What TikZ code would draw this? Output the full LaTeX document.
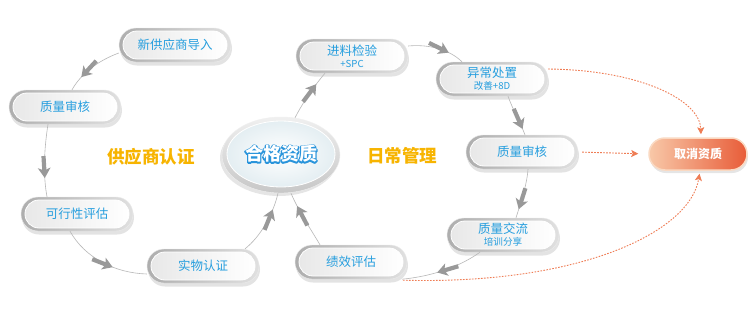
\documentclass[tikz,border=0pt]{standalone}
\usepackage{fontspec}
\setmainfont{Noto Sans CJK SC}
\usetikzlibrary{shapes.misc,shapes.geometric,shadows,decorations.markings,arrows.meta}
\definecolor{txtblue}{RGB}{38,158,222}
\definecolor{gold}{RGB}{247,180,0}
\definecolor{dorange}{RGB}{239,125,85}
\definecolor{qxleft}{RGB}{248,200,168}
\definecolor{qxright}{RGB}{232,92,56}
\definecolor{hzrim}{RGB}{228,238,242}
\newcommand\glowtxt[1]{\leavevmode
 \rlap{\special{pdf:code q 1 Tr 2.4 w 1 j 0.16 0.58 0.86 RG}#1\special{pdf:code Q}}%
 \textcolor{white}{#1}}
\tikzset{
 pillout/.style={rounded rectangle, minimum width=112pt, minimum height=34pt, inner sep=0pt,
   left color=black!32, right color=black!12, draw=black!8, line width=0.4pt,
   drop shadow={opacity=0.22, shadow xshift=1pt, shadow yshift=-3.5pt}},
 pillin/.style={rounded rectangle, minimum width=104pt, minimum height=28pt, inner sep=0pt,
   left color=black!9, right color=white, draw=white, line width=0.8pt,
   text=txtblue, font=\fontsize{12.5}{14}\selectfont, align=center},
 title/.style={text=gold, font=\bfseries\fontsize{17.5}{20}\selectfont},
 garrow/.style={draw=black!28, line width=0.6pt, postaction={decorate},
   decoration={markings, mark=at position #1 with {\draw[line width=4.2pt, draw=black!40, fill=black!40,
     -{Stealth[length=10pt,width=12.5pt,inset=2.5pt]}] (-22pt,0) -- (0pt,0);}}},
 garrow/.default=0.7,
 darrow/.style={draw=dorange, line width=0.9pt, dash pattern=on 1.6pt off 1.4pt,
   -{Stealth[length=7pt,width=7pt,inset=1.5pt]}}
}
\newcommand\subl[1]{{\fontsize{9.6}{11}\selectfont #1}}
\newcommand\pill[3]{%
 \node[pillout] (#1) at (#2) {};
 \node[pillin] (#1-in) at (#2) {#3};}
\begin{document}
\begin{tikzpicture}[x=1pt,y=-1pt]
\useasboundingbox (0,0) rectangle (750,316);
\fill[white] (0,0) rectangle (750,316);

% left loop
\pill{nsi}{175,45}{新供应商导入}
\pill{qa1}{65,107}{质量审核}
\pill{fes}{77,214}{可行性评估}
\pill{rc}{203,266}{实物认证}
% right loop
\pill{jl}{352,56}{进料检验\\[-2pt]\subl{+SPC}}
\pill{yc}{492,79}{异常处置\\[-2pt]\subl{改善+8D}}
\pill{qa2}{522,152}{质量审核}
\pill{qc}{503,235}{质量交流\\[-2pt]\subl{培训分享}}
\pill{jx}{351,262}{绩效评估}

% centre ellipse
\node[ellipse, minimum width=118pt, minimum height=76pt, inner sep=0pt,
  top color=black!6, bottom color=black!22, draw=black!6,
  drop shadow={opacity=0.2, shadow xshift=-2pt, shadow yshift=-3pt}] (hz) at (281,155) {};
\node[ellipse, minimum width=108pt, minimum height=66pt, inner sep=0pt,
  inner color=white, outer color=hzrim, draw=white, line width=0.8pt,
  font=\bfseries\fontsize{18}{20}\selectfont] (hz-in) at (281,154) {\glowtxt{合格资质}};

% cancel node
\node[rounded rectangle, minimum width=98pt, minimum height=32pt, inner sep=0pt,
  left color=qxleft, right color=qxright, draw=qxleft!70!white, line width=1.5pt,
  text=white, font=\bfseries\fontsize{12}{14}\selectfont,
  drop shadow={opacity=0.2, shadow xshift=1pt, shadow yshift=-3pt}] (qx) at (698,154) {取消资质};

% titles
\node[title] (t1) at (151,157) {供应商认证};
\node[title] (t2) at (402,156) {日常管理};

% grey connectors
\draw[garrow=0.74] ([yshift=-8pt]nsi.west) .. controls (100,60) and (82,72) .. ([xshift=7pt]qa1.north);
\draw[garrow=0.74] ([xshift=-17pt]qa1.south) .. controls (44,150) and (43,175) .. ([xshift=-30pt]fes.north);
\draw[garrow=0.62] ([xshift=-7pt]fes.south) .. controls (85,258) and (115,273) .. ([yshift=-8pt]rc.west);
\draw[garrow=0.74] ([xshift=42pt]rc.north) .. controls (260,237) and (273,215) .. ([xshift=-3pt]hz.south);
\draw[garrow=0.74] ([xshift=14pt,yshift=-1pt]hz.north) .. controls (303,102) and (315,85) .. ([xshift=-27pt]jl.south);
\draw[garrow=0.72] ([yshift=10pt]jl.east) .. controls (430,44) and (450,50) .. ([xshift=-30pt]yc.north);
\draw[garrow=0.85] ([xshift=16pt]yc.south) .. controls (513,110) and (520,122) .. ([xshift=3pt]qa2.north);
\draw[garrow=0.82] ([xshift=6pt]qa2.south) .. controls (527,185) and (520,205) .. ([xshift=13pt]qc.north);
\draw[garrow=0.57] ([xshift=-23pt]qc.south) .. controls (455,270) and (425,277) .. ([xshift=51pt]jx.south);
\draw[garrow=0.76] ([xshift=-31pt]jx.north) .. controls (310,228) and (298,210) .. ([xshift=10pt]hz.south);

% orange dashed connectors
\draw[darrow, shorten >=3pt] ([yshift=10pt]yc.east) .. controls (640,70) and (700,100) .. ([xshift=3pt]qx.north);
\draw[darrow, shorten <=4pt, shorten >=10pt] (qa2.east) -- (qx.west);
\draw[darrow, shorten >=3pt] ([xshift=52pt,yshift=-1pt]jx.south) .. controls (580,285) and (690,232) .. ([xshift=2pt]qx.south);
\end{tikzpicture}
\end{document}
